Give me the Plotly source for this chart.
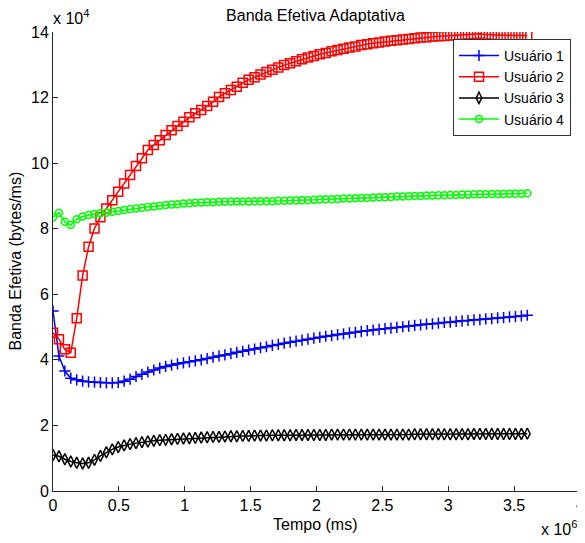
import plotly.graph_objects as go

# Time grid (units of 10^6 ms), 81 samples from 0 to 3.6
tempo = [round(i * 0.045, 3) for i in range(81)]

# Effective bandwidth (units of 10^4 bytes/ms)
usuario1 = [5.49, 4.12, 3.66, 3.44, 3.39, 3.35, 3.33, 3.32, 3.31, 3.30,
            3.30, 3.31, 3.35, 3.41, 3.49, 3.56, 3.63, 3.69, 3.75, 3.80,
            3.84, 3.88, 3.91, 3.94, 3.97, 4.00, 4.04, 4.08, 4.12, 4.15,
            4.19, 4.23, 4.26, 4.30, 4.33, 4.37, 4.40, 4.44, 4.47, 4.51,
            4.54, 4.57, 4.60, 4.63, 4.66, 4.69, 4.72, 4.74, 4.77, 4.79,
            4.82, 4.84, 4.87, 4.89, 4.91, 4.93, 4.95, 4.97, 4.99, 5.01,
            5.03, 5.05, 5.07, 5.09, 5.10, 5.12, 5.14, 5.15, 5.17, 5.19,
            5.20, 5.22, 5.23, 5.25, 5.26, 5.28, 5.29, 5.31, 5.32, 5.34,
            5.36]
usuario2 = [4.83, 4.63, 4.32, 4.22, 5.27, 6.57, 7.45, 8.01, 8.35, 8.62,
            8.87, 9.13, 9.38, 9.64, 9.91, 10.15, 10.40, 10.55, 10.70, 10.86,
            11.00, 11.13, 11.26, 11.40, 11.52, 11.62, 11.74, 11.87, 12.02, 12.13,
            12.23, 12.33, 12.45, 12.54, 12.62, 12.70, 12.78, 12.85, 12.92, 12.99,
            13.05, 13.11, 13.17, 13.22, 13.27, 13.32, 13.36, 13.41, 13.45, 13.49,
            13.53, 13.56, 13.60, 13.63, 13.66, 13.68, 13.71, 13.73, 13.75, 13.77,
            13.79, 13.81, 13.83, 13.84, 13.86, 13.87, 13.88, 13.89, 13.90, 13.91,
            13.92, 13.93, 13.95, 13.92, 13.91, 13.90, 13.90, 13.90, 13.89, 13.89,
            13.89]
usuario3 = [1.10, 1.06, 0.97, 0.90, 0.86, 0.84, 0.86, 0.95, 1.07, 1.18,
            1.27, 1.34, 1.39, 1.43, 1.46, 1.49, 1.51, 1.53, 1.55, 1.56,
            1.58, 1.59, 1.60, 1.61, 1.62, 1.63, 1.64, 1.65, 1.65, 1.66,
            1.67, 1.67, 1.68, 1.68, 1.69, 1.69, 1.69, 1.70, 1.70, 1.70,
            1.70, 1.71, 1.71, 1.71, 1.71, 1.71, 1.71, 1.72, 1.72, 1.72,
            1.72, 1.72, 1.72, 1.72, 1.72, 1.72, 1.72, 1.72, 1.72, 1.72,
            1.72, 1.73, 1.73, 1.73, 1.73, 1.73, 1.73, 1.73, 1.73, 1.73,
            1.73, 1.74, 1.74, 1.74, 1.74, 1.74, 1.74, 1.74, 1.74, 1.74,
            1.75]
usuario4 = [8.35, 8.49, 8.21, 8.11, 8.29, 8.37, 8.42, 8.45, 8.47, 8.49,
            8.52, 8.54, 8.57, 8.60, 8.62, 8.64, 8.66, 8.68, 8.70, 8.72,
            8.74, 8.75, 8.77, 8.78, 8.79, 8.80, 8.81, 8.81, 8.82, 8.82,
            8.83, 8.83, 8.83, 8.83, 8.84, 8.84, 8.84, 8.84, 8.85, 8.85,
            8.86, 8.86, 8.87, 8.87, 8.88, 8.89, 8.90, 8.90, 8.91, 8.92,
            8.92, 8.93, 8.94, 8.94, 8.95, 8.96, 8.96, 8.97, 8.98, 8.98,
            8.99, 9.00, 9.00, 9.01, 9.01, 9.02, 9.02, 9.03, 9.03, 9.04,
            9.04, 9.05, 9.05, 9.05, 9.06, 9.06, 9.06, 9.07, 9.07, 9.07,
            9.08]

series_names = ["Usuário 1", "Usuário 2", "Usuário 3", "Usuário 4"]
x_ticks = [0, 0.5, 1, 1.5, 2, 2.5, 3, 3.5, 4]
x_tick_labels = ["0", "0.5", "1", "1.5", "2", "2.5", "3", "3.5", ""]
x_last_label = "4"
y_ticks = [0, 2, 4, 6, 8, 10, 12, 14]
y_tick_labels = ["0", "2", "4", "6", "8", "10", "12", "14"]

FONT = "Liberation Sans, Arial, sans-serif"
FS = 16

# The page body has an 8px default margin, so the figure is sized to fit
W, H = 577, 535
ML, MR, MT, MB = 45, 5, 24, 52

styles = [
    dict(color="#0000ff", symbol="cross-thin", size=8),
    dict(color="#ff0000", symbol="square-open", size=9),
    dict(color="#000000", symbol="diamond-tall-open", size=8),
    dict(color="#00ff00", symbol="circle-open", size=7),
]

fig = go.Figure()
for name, ys, st in zip(series_names, [usuario1, usuario2, usuario3, usuario4], styles):
    fig.add_trace(go.Scatter(
        x=tempo, y=ys, name=name, mode="lines+markers",
        line=dict(color=st["color"], width=1.5),
        marker=dict(symbol=st["symbol"], size=st["size"], color=st["color"],
                    line=dict(color=st["color"], width=1.5)),
    ))

fig.update_layout(
    width=W, height=H,
    margin=dict(l=ML, r=MR, t=MT, b=MB, autoexpand=False),
    paper_bgcolor="white", plot_bgcolor="white",
    font=dict(family=FONT, size=FS, color="black"),
    title=dict(text="Banda Efetiva Adaptativa", x=307.5 / W, xanchor="center",
               y=1 - 7 / H, yanchor="middle", yref="container",
               font=dict(size=FS, family=FONT)),
    showlegend=True,
    legend=dict(x=0.759, y=0.985, xanchor="left", yanchor="top",
                bgcolor="white", bordercolor="#333333", borderwidth=1,
                font=dict(size=14, family=FONT), tracegroupgap=0,
                itemwidth=40),
)

fig.update_xaxes(range=[0, 4], tickvals=x_ticks, ticktext=x_tick_labels,
                 automargin=False, ticklabeloverflow="allow",
                 showline=True, linecolor="#262626", linewidth=1,
                 ticks="inside", ticklen=5, tickcolor="#262626",
                 showgrid=False, zeroline=False, mirror=False,
                 tickfont=dict(size=FS, family=FONT, color="black"))
fig.update_yaxes(range=[0, 14], tickvals=y_ticks, ticktext=y_tick_labels,
                 automargin=False, ticklabeloverflow="allow",
                 showline=True, linecolor="#262626", linewidth=1,
                 ticks="inside", ticklen=5, tickcolor="#262626",
                 showgrid=False, zeroline=False, mirror=False,
                 tickfont=dict(size=FS, family=FONT, color="black"))

# Last x tick label, drawn at the axis end so it is not dropped
fig.add_annotation(text=x_last_label, xref="x", yref="paper", x=x_ticks[-1], y=0,
                   xanchor="center", yanchor="top", showarrow=False, yshift=-3,
                   font=dict(size=FS, family=FONT, color="black"))

# Axis titles
fig.add_annotation(text="Tempo (ms)", xref="paper", yref="paper", x=0.497, y=0,
                   xanchor="center", yanchor="middle", showarrow=False, yshift=-33,
                   font=dict(size=FS, family=FONT))
fig.add_annotation(text="Banda Efetiva (bytes/ms)", xref="paper", yref="paper", x=0, y=0.5,
                   xanchor="center", yanchor="middle", showarrow=False, xshift=-38,
                   textangle=-90, font=dict(size=FS, family=FONT))

# Exponent labels
fig.add_annotation(text="x 10<sup>4</sup>", xref="paper", yref="paper", x=0, y=1,
                   xanchor="left", yanchor="bottom", showarrow=False, yshift=3,
                   xshift=-2, font=dict(size=FS, family=FONT))
fig.add_annotation(text="x 10<sup>6</sup>", xref="paper", yref="paper", x=1, y=0,
                   xanchor="right", yanchor="top", showarrow=False, yshift=-25,
                   xshift=-1, font=dict(size=FS, family=FONT))

fig.write_html("out.html")
